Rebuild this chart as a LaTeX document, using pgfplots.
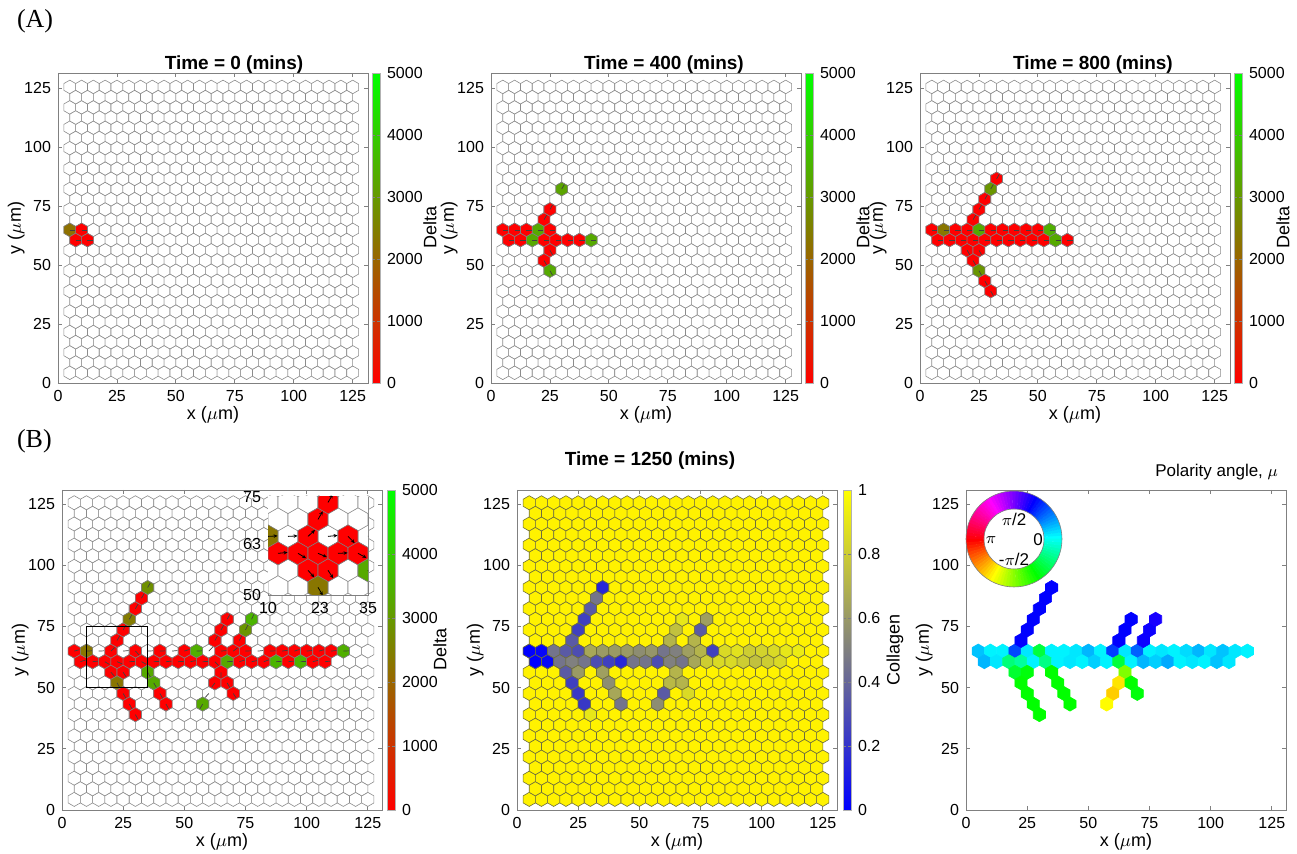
\documentclass[border=0pt]{standalone}
\usepackage{fontspec}
\setmainfont{Liberation Sans}
\newfontfamily\serifA{Liberation Serif}
\usepackage{pgfplots}
\usepackage{pgfplotstable}
\pgfplotsset{compat=1.18}
\usetikzlibrary{arrows.meta}

\definecolor{yedge}{RGB}{110,110,60}
\definecolor{gedge}{RGB}{140,140,140}

% pointy-top hexagon, circumradius = mark size
\newcommand\hexpath{%
  \pgfpathmoveto{\pgfqpointpolar{90}{\pgfplotmarksize}}%
  \pgfpathlineto{\pgfqpointpolar{150}{\pgfplotmarksize}}%
  \pgfpathlineto{\pgfqpointpolar{210}{\pgfplotmarksize}}%
  \pgfpathlineto{\pgfqpointpolar{270}{\pgfplotmarksize}}%
  \pgfpathlineto{\pgfqpointpolar{330}{\pgfplotmarksize}}%
  \pgfpathlineto{\pgfqpointpolar{30}{\pgfplotmarksize}}%
  \pgfpathclose}
\pgfdeclareplotmark{hexa}{\hexpath\pgfusepathqfillstroke}
\pgfdeclareplotmark{hexw}{\pgfsetfillcolor{white}\pgfsetstrokecolor{gedge}\hexpath\pgfusepathqfillstroke}
\pgfdeclareplotmark{hexy}{\pgfsetfillcolor{yellow}\pgfsetstrokecolor{yedge}\hexpath\pgfusepathqfillstroke}

% time 0, 400, 800: cell centres, Delta level, polarity angle
\pgfplotstableread{
x y d a
5 64.95 2200 0
10 64.95 0 0
7.5 60.62 0 0
12.5 60.62 0 0
}\tabA
\pgfplotstableread{
x y d a
30 82.27 3200 1.05
25 73.61 0 1.05
22.5 69.28 0 1.05
5 64.95 0 0
10 64.95 0 0
15 64.95 0 0
20 64.95 3300 0
25 64.95 0 0
7.5 60.62 0 0
12.5 60.62 0 0
17.5 60.62 3300 0
22.5 60.62 0 0
27.5 60.62 0 0
32.5 60.62 0 0
37.5 60.62 0 0
42.5 60.62 3300 0
25 56.29 0 -1.05
22.5 51.96 0 -1.05
25 47.63 3300 -1.05
}\tabB
\pgfplotstableread{
x y d a
32.5 86.60 0 1.05
30 82.27 2900 1.05
27.5 77.94 0 1.05
25 73.61 0 1.05
22.5 69.28 0 1.05
5 64.95 0 0
10 64.95 2300 0
15 64.95 0 0
20 64.95 0 0
25 64.95 3300 0
30 64.95 0 0
35 64.95 0 0
40 64.95 0 0
45 64.95 0 0
50 64.95 0 0
55 64.95 3400 0
7.5 60.62 0 0
12.5 60.62 0 0
17.5 60.62 0 0
22.5 60.62 0 0
27.5 60.62 0 0
32.5 60.62 0 0
37.5 60.62 0 0
42.5 60.62 0 0
47.5 60.62 0 0
52.5 60.62 0 0
57.5 60.62 3300 0
62.5 60.62 0 0
20 56.29 0 -1.05
25 56.29 0 -1.05
22.5 51.96 0 -1.05
25 47.63 2900 -1.05
27.5 43.30 0 -1.05
30 38.97 0 -1.05
}\tabC
% time 1250: Delta (-1 = empty), collagen, polarity angle
\pgfplotstableread{
x y d c a
5 64.95 0 0.00 0.25
10 64.95 2300 0.02 0.05
15 64.95 -1 0.45 0.05
20 64.95 0 0.35 0.75
25 64.95 -1 0.30 0.10
30 64.95 0 0.65 -0.80
35 64.95 -1 0.60 0.05
40 64.95 0 0.60 0.05
45 64.95 -1 0.60 0.10
50 64.95 0 0.55 0.30
55 64.95 3400 0.58 0.05
60 64.95 -1 0.45 0.80
65 64.95 0 0.50 0.10
70 64.95 0 0.62 0.65
75 64.95 0 0.70 0.05
80 64.95 -1 0.25 0.10
85 64.95 0 0.85 0.05
90 64.95 0 0.88 0.15
95 64.95 0 0.80 0.30
100 64.95 0 0.82 0.10
105 64.95 0 0.85 0.25
110 64.95 0 0.90 0.10
115 64.95 3400 0.92 0.05
7.5 60.62 0 0.00 0.30
12.5 60.62 0 0.03 0.10
17.5 60.62 0 0.45 -0.55
22.5 60.62 0 0.50 -0.40
27.5 60.62 0 0.45 0.05
32.5 60.62 0 0.30 -0.50
37.5 60.62 0 0.25 0.05
42.5 60.62 0 0.15 0.10
47.5 60.62 0 0.45 0.05
52.5 60.62 0 0.45 0.20
57.5 60.62 0 0.30 0.05
62.5 60.62 0 0.50 -0.80
67.5 60.62 3300 0.45 0.05
72.5 60.62 0 0.65 0.30
77.5 60.62 0 0.80 0.20
82.5 60.62 0 0.85 0.35
87.5 60.62 3500 0.85 0.05
92.5 60.62 0 0.80 0.10
97.5 60.62 3500 0.75 0.05
102.5 60.62 0 0.80 0.25
107.5 60.62 0 0.85 0.10
22.5 69.28 0 0.35 1.05
25 73.61 0 0.25 1.05
27.5 77.94 2400 0.25 1.05
30 82.27 0 0.35 1.05
32.5 86.60 0 0.45 1.05
35 90.93 2800 0.15 1.05
20 56.29 0 0.35 -0.85
25 56.29 0 0.60 -1.00
22.5 51.96 2300 0.25 -1.05
25 47.63 0 0.22 -1.05
27.5 43.30 0 0.22 -1.05
30 38.97 0 0.90 -1.05
35 56.29 3300 0.62 -1.05
37.5 51.96 3300 0.55 -1.05
40 47.63 0 0.65 -1.05
42.5 43.30 0 0.45 -1.05
62.5 69.28 0 0.70 1.05
65 73.61 0 0.75 1.05
67.5 77.94 0 0.90 1.05
72.5 69.28 0 0.70 1.10
75 73.61 2900 0.35 1.10
77.5 77.94 3500 0.62 1.15
65 56.29 0 0.70 -1.57
62.5 51.96 0 0.72 -2.20
60 47.63 -1 0.35 -2.30
57.5 43.30 3300 0.55 -2.10
67.5 51.96 0 0.70 -1.05
70 47.63 0 0.85 -1.00
}\tabNet

\pgfplotsset{
  colormap={hsvm}{rgb=(1,0,0) rgb=(1,1,0) rgb=(0,1,0) rgb=(0,1,1) rgb=(0,0,1) rgb=(1,0,1) rgb=(1,0,0)},
  colormap={coll}{rgb=(0,0,1) rgb=(1,1,0)},
  colormap={delta}{rgb=(1,0,0) rgb=(0,1,0)},
  hexax/.style={
    scale only axis, anchor=south west,
    xtick={0,25,...,125}, ytick={0,25,...,125},
    tick align=inside, major tick length=2pt,
    axis line style={black!50}, every tick/.style={black!50, line width=0.4pt},
    tick label style={font=\fontsize{8}{9}\selectfont},
    label style={font=\fontsize{9}{10}\selectfont},
    xlabel={x ($\mu$m)}, ylabel={y ($\mu$m)},
    xlabel shift=-4.5pt, ylabel shift=-7pt,
    /pgf/number format/assume math mode=true,
    /pgf/number format/1000 sep={},
    clip marker paths=true,
  },
  cbar/.style={colorbar, colorbar style={
    at={(parent axis.north east)}, anchor=north west, xshift={#1-0.3cm}, width=4pt,
    yticklabel style={font=\fontsize{8}{9}\selectfont},
    major tick length=1.5pt, axis line style={black!30}, every tick/.style={black!50},
    /pgf/number format/assume math mode=true,
    /pgf/number format/1000 sep={}}},
  deltabar/.style={colormap name=delta, point meta min=0, point meta max=5000,
    cbar=#1, colorbar style={ytick={0,1000,...,5000}}},
  cells/.style={scatter, only marks, mark=hexa, mark size=#1,
    scatter/use mapped color={draw=black!50, fill=mapped color}, line width=0.3pt},
  dashes/.style={-, black!75, line width=0.35pt,
    quiver={u={2.2*cos(deg(\thisrow{a}))}, v={2.2*sin(deg(\thisrow{a}))}}},
}

% empty hexagonal lattice: 29 rows, 4.33 apart; #2 = hexw or hexy
\newcommand\hexgrid[2]{%
  \pgfplotsinvokeforeach{1,3,...,29}{%
    \addplot[only marks, mark=#2, mark size=#1, line width=0.3pt,
      samples at={5,10,...,125}] ({x},{##1*4.330127});}%
  \pgfplotsinvokeforeach{2,4,...,28}{%
    \addplot[only marks, mark=#2, mark size=#1, line width=0.3pt,
      samples at={7.5,12.5,...,122.5}] ({x},{##1*4.330127});}%
}

\begin{document}
\begin{tikzpicture}[font=\fontsize{8}{9}\selectfont]
\useasboundingbox (0,0) rectangle (648.5pt,427pt);

% ---------- (A) ----------
\begin{axis}[hexax, at={(29pt,235.5pt)}, width=155pt, height=155pt,
  xmin=0, xmax=131.5, ymin=0, ymax=131.5, deltabar=2pt]
\hexgrid{3.403pt}{hexw}
\addplot[cells=3.403pt, point meta=\thisrow{d}] table {\tabA};
\addplot[dashes] table {\tabA};
\end{axis}

\begin{axis}[hexax, at={(245.5pt,235.5pt)}, width=155pt, height=155pt,
  xmin=0, xmax=131.5, ymin=0, ymax=131.5, deltabar=2pt]
\hexgrid{3.403pt}{hexw}
\addplot[cells=3.403pt, point meta=\thisrow{d}] table {\tabB};
\addplot[dashes] table {\tabB};
\end{axis}

\begin{axis}[hexax, at={(460pt,235.5pt)}, width=155pt, height=155pt,
  xmin=0, xmax=131.5, ymin=0, ymax=131.5, deltabar=2pt]
\hexgrid{3.403pt}{hexw}
\addplot[cells=3.403pt, point meta=\thisrow{d}] table {\tabC};
\addplot[dashes] table {\tabC};
\end{axis}

% ---------- (B) ----------
\begin{axis}[hexax, at={(31pt,22pt)}, width=160pt, height=160pt,
  xmin=0, xmax=130.8, ymin=0, ymax=130.8, deltabar=2.5pt]
\hexgrid{3.531pt}{hexw}
\addplot[cells=3.531pt, point meta=\thisrow{d},
  restrict expr to domain={\thisrow{d}}{0:10000}] table {\tabNet};
\addplot[dashes] table {\tabNet};
\draw[black, line width=0.5pt] (10,50) rectangle (35,75);
\end{axis}

\begin{axis}[at={(134pt,129.5pt)}, anchor=south west, scale only axis,
  width=50pt, height=49pt, xmin=10, xmax=35, ymin=50, ymax=75,
  xtick={10,23,35}, ytick={50,63,75}, major tick length=0pt,
  tick label style={font=\fontsize{8}{9}\selectfont},
  axis line style={black!50}, axis background/.style={fill=white},
  clip marker paths=true, colormap name=delta, point meta min=0, point meta max=5000,
  /pgf/number format/assume math mode=true]
\pgfplotsinvokeforeach{11,13,15,17}{%
  \addplot[only marks, mark=hexw, mark size=5.77pt, line width=0.3pt,
    samples at={5,10,...,40}] ({x},{#1*4.330127});}
\pgfplotsinvokeforeach{12,14,16,18}{%
  \addplot[only marks, mark=hexw, mark size=5.77pt, line width=0.3pt,
    samples at={7.5,12.5,...,37.5}] ({x},{#1*4.330127});}
\addplot[cells=5.77pt, point meta=\thisrow{d},
  restrict expr to domain={\thisrow{d}}{0:10000}] table {\tabNet};
\addplot[-{Stealth[length=2pt,width=1.8pt]}, black, line width=0.4pt,
  quiver={u={2.4*cos(deg(\thisrow{a}))}, v={2.4*sin(deg(\thisrow{a}))}}] table {\tabNet};
\end{axis}

\begin{axis}[hexax, at={(258.5pt,22pt)}, width=160pt, height=160pt,
  xmin=0, xmax=130.8, ymin=0, ymax=130.8,
  colormap name=coll, point meta min=0, point meta max=1,
  cbar=3pt, colorbar style={ytick={0,0.2,...,1}}]
\hexgrid{3.531pt}{hexy}
\addplot[cells=3.531pt, point meta=\thisrow{c},
  scatter/use mapped color={draw=yedge, fill=mapped color}] table {\tabNet};
\end{axis}

\begin{axis}[hexax, at={(483pt,22pt)}, width=160pt, height=160pt,
  xmin=0, xmax=130.8, ymin=0, ymax=130.8,
  colormap name=hsvm, point meta min=-3.14159, point meta max=3.14159]
\addplot[cells=3.531pt, point meta=\thisrow{a},
  scatter/use mapped color={draw=mapped color, fill=mapped color}] table {\tabNet};
\end{axis}

% polarity colour wheel
\begin{scope}[shift={(507pt,157.5pt)}]
\foreach \t in {0,4,...,356}{%
  \pgfmathsetmacro\hh{mod(\t+180,360)/360}%
  \definecolor{wc}{hsb}{\hh,1,1}%
  \fill[wc] (\t:15pt) -- (\t:24pt) arc[start angle=\t, end angle=\t+4.6, radius=24pt]
    -- (\t+4.6:15pt) arc[start angle=\t+4.6, end angle=\t, radius=15pt] -- cycle;
}
\draw[black!50, line width=0.3pt] (0,0) circle (24pt) (0,0) circle (15pt);
\node[font=\fontsize{8.5}{9}\selectfont] at (0,9.6pt) {$\pi$/2};
\node[font=\fontsize{8.5}{9}\selectfont] at (-11.5pt,-0.4pt) {$\pi$};
\node[font=\fontsize{8.5}{9}\selectfont] at (12pt,-0.4pt) {0};
\node[font=\fontsize{8.5}{9}\selectfont] at (0,-10.4pt) {-$\pi$/2};
\end{scope}

% colour bar labels
\begin{scope}[every node/.style={rotate=90, anchor=center, font=\fontsize{9}{10}\selectfont}]
\node at (215pt,313pt) {Delta};
\node at (431.5pt,313pt) {Delta};
\node at (641.5pt,313pt) {Delta};
\node at (220pt,102pt) {Delta};
\node at (447.5pt,102pt) {Collagen};
\end{scope}

% titles and panel letters
\node[anchor=base, font=\bfseries\fontsize{9.5}{11}\selectfont] at (117pt,392pt) {Time = 0 (mins)};
\node[anchor=base, font=\bfseries\fontsize{9.5}{11}\selectfont] at (332pt,392pt) {Time = 400 (mins)};
\node[anchor=base, font=\bfseries\fontsize{9.5}{11}\selectfont] at (546.5pt,392pt) {Time = 800 (mins)};
\node[anchor=base, font=\bfseries\fontsize{9.5}{11}\selectfont] at (325pt,194pt) {Time = 1250 (mins)};
\node[anchor=base east, font=\fontsize{8.5}{10}\selectfont] at (642.5pt,188.5pt) {Polarity angle, $\mu$};
\node[anchor=base west, font=\serifA\fontsize{13}{15}\selectfont] at (5pt,413pt) {(A)};
\node[anchor=base west, font=\serifA\fontsize{13}{15}\selectfont] at (5pt,203pt) {(B)};
\end{tikzpicture}
\end{document}
